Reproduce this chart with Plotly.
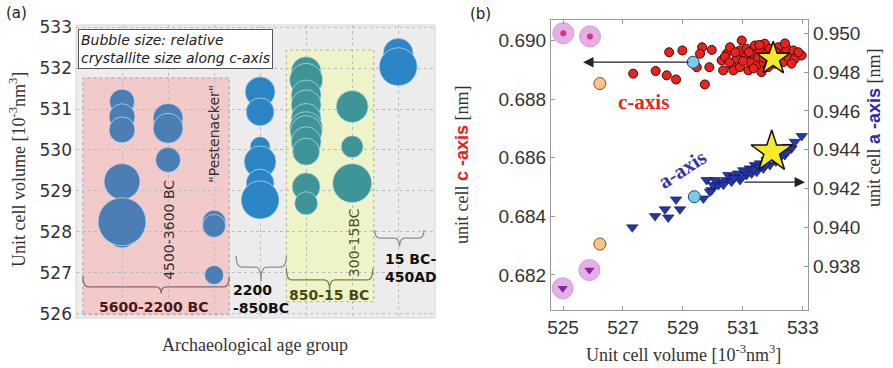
import plotly.graph_objects as go

# ---------------- Panel (a) data ----------------
age_groups = ["5600-2200 BC", "4500-3600 BC", "Pestenacker", "2200-850BC",
              "850-15 BC", "300-15BC", "15 BC-450AD"]
bubble_group = [1, 1, 1, 1, 1, 1,
                2, 2, 2,
                3, 3, 3,
                4, 4, 4, 4, 4, 4,
                5, 5, 5, 5, 5, 5, 5, 5, 5, 5, 5,
                6, 6, 6,
                7, 7]
bubble_volume = [531.18, 530.81, 530.49, 529.23, 527.95, 528.25,
                 530.77, 530.53, 529.76,
                 528.25, 528.15, 526.95,
                 531.42, 530.93, 530.08, 529.71, 529.19, 528.78,
                 531.91, 531.71, 531.34, 531.10, 530.77, 530.53, 530.45, 530.20, 529.96, 529.10, 528.70,
                 531.06, 530.08, 529.19,
                 532.36, 532.03]
bubble_rel_size = [25, 26, 26, 36, 28, 48,
                   30, 30, 25,
                   23, 23, 19,
                   30, 28, 20, 32, 28, 38,
                   30, 33, 30, 30, 30, 33, 32, 30, 27, 28, 23,
                   32, 22, 39,
                   30, 38]
a_yticks = [526, 527, 528, 529, 530, 531, 532, 533]

# ---------------- Panel (b) data ----------------
c_vol = [527.34, 528.09, 528.46, 528.77, 528.54, 528.98, 529.64, 529.57, 529.96, 529.46, 529.88, 529.73,
         530.29, 530.46, 530.57, 530.62, 530.68, 530.79, 530.90, 530.96, 530.90, 531.07, 531.12, 531.18,
         531.23, 531.29, 531.40, 531.46, 531.51, 531.57, 531.62, 531.68, 531.73, 531.79, 531.84, 531.90,
         531.96, 532.07, 532.18, 532.23, 532.34, 532.46, 532.51, 532.68, 532.73, 532.96, 532.62, 530.34,
         530.40, 530.75, 531.00, 531.35, 531.55, 531.85, 532.10, 532.40, 532.85, 530.55, 531.20, 531.70]
c_axis = [0.68887, 0.68896, 0.68881, 0.68867, 0.68960, 0.68966, 0.68977, 0.68955, 0.68968, 0.68909, 0.68909, 0.68850,
          0.68932, 0.68955, 0.68977, 0.68915, 0.68898, 0.68938, 0.68966, 0.69000, 0.68909, 0.68943, 0.68972, 0.68898,
          0.68926, 0.68955, 0.68983, 0.68915, 0.68943, 0.68966, 0.68892, 0.68926, 0.68989, 0.68955, 0.68909, 0.68972,
          0.68932, 0.68921, 0.68977, 0.68949, 0.68926, 0.68972, 0.68943, 0.68966, 0.68938, 0.68949, 0.68921, 0.68898,
          0.68945, 0.68960, 0.68930, 0.68905, 0.68985, 0.68945, 0.68960, 0.68990, 0.68960, 0.68925, 0.68960, 0.68940]

a_vol = [527.31, 528.07, 528.51, 528.40, 528.77, 528.90, 529.68, 529.79, 529.96, 530.01, 530.23, 530.46,
         529.90, 530.18, 530.07,
         530.51, 530.62, 530.73, 530.84, 530.90, 531.01, 531.12, 531.23, 531.29, 531.40, 531.46, 531.57,
         531.68, 531.79, 531.90, 532.01, 532.18, 532.29, 532.40, 532.51, 532.62, 532.73, 532.96,
         530.35, 530.95, 531.35, 531.75, 532.10, 532.45, 530.70, 531.55]
a_axis = [0.94000, 0.94058, 0.94051, 0.94093, 0.94144, 0.94093, 0.94149, 0.94244, 0.94192, 0.94218, 0.94235, 0.94244,
          0.94184, 0.94218, 0.94244,
          0.94270, 0.94235, 0.94261, 0.94278, 0.94244, 0.94295, 0.94270, 0.94304, 0.94278, 0.94321, 0.94287, 0.94330,
          0.94304, 0.94347, 0.94321, 0.94364, 0.94347, 0.94390, 0.94373, 0.94415, 0.94407, 0.94441, 0.94471,
          0.94220, 0.94255, 0.94300, 0.94320, 0.94340, 0.94385, 0.94255, 0.94310]

ref_star_vol = [532.01]
ref_star_c = [0.68938]
ref_star_a_vol = [531.96]
ref_star_a = [0.94390]
pink_vol = [525.01, 525.90]
pink_c = [0.69025, 0.69014]
pink_a_vol = [524.99, 525.88]
pink_a = [0.93686, 0.93780]
orange_vol = [526.23]
orange_c = [0.68853]
orange_a = [0.93914]
cyan_vol = [529.34]
cyan_c = [0.68926]
cyan_a_vol = [529.38]
cyan_a = [0.94158]

b_xticks = [525, 527, 529, 531, 533]
b_cticks = [0.682, 0.684, 0.686, 0.688, 0.690]
b_aticks = [0.938, 0.940, 0.942, 0.944, 0.946, 0.948, 0.950]

# ---------------- Figure ----------------
group_colors = {1: "#4b7eb5", 2: "#4b7eb5", 3: "#4b7eb5", 4: "#2c86c5",
                5: "#3d9598", 6: "#3d9598", 7: "#2c86c5"}

fig = go.Figure()

fig.add_trace(go.Scatter(
    x=bubble_group, y=bubble_volume, mode="markers", xaxis="x", yaxis="y",
    marker=dict(size=bubble_rel_size, sizemode="diameter",
                color=[group_colors[g] for g in bubble_group], opacity=1,
                line=dict(color="rgba(200,220,235,0.7)", width=1)),
    showlegend=False, hoverinfo="skip"))

# panel b traces
fig.add_trace(go.Scatter(x=pink_vol, y=pink_c, mode="markers", xaxis="x2", yaxis="y2",
                         marker=dict(size=21, color="#e6b0e6", line=dict(color="#d79ad7", width=1)),
                         showlegend=False))
fig.add_trace(go.Scatter(x=pink_vol, y=pink_c, mode="markers", xaxis="x2", yaxis="y2",
                         marker=dict(size=6, color="#e0307a"), showlegend=False))
fig.add_trace(go.Scatter(x=pink_a_vol, y=pink_a, mode="markers", xaxis="x2", yaxis="y3",
                         marker=dict(size=21, color="#e6b0e6", line=dict(color="#d79ad7", width=1)),
                         showlegend=False))
fig.add_trace(go.Scatter(x=pink_a_vol, y=pink_a, mode="markers", xaxis="x2", yaxis="y3",
                         marker=dict(size=9, symbol="triangle-down", color="#7a2aa8"), showlegend=False))
fig.add_trace(go.Scatter(x=orange_vol, y=orange_c, mode="markers", xaxis="x2", yaxis="y2",
                         marker=dict(size=12, color="#fac58c", line=dict(color="#7a5020", width=1)),
                         showlegend=False))
fig.add_trace(go.Scatter(x=orange_vol, y=orange_a, mode="markers", xaxis="x2", yaxis="y3",
                         marker=dict(size=12, color="#fac58c", line=dict(color="#7a5020", width=1)),
                         showlegend=False))
fig.add_trace(go.Scatter(x=c_vol, y=c_axis, mode="markers", xaxis="x2", yaxis="y2",
                         marker=dict(size=9, color="#e8231d", line=dict(color="#4a0000", width=1)),
                         showlegend=False))
fig.add_trace(go.Scatter(x=a_vol, y=a_axis, mode="markers", xaxis="x2", yaxis="y3",
                         marker=dict(size=10, symbol="triangle-down", color="#2536a8",
                                     line=dict(color="#101050", width=0.6)),
                         showlegend=False))
fig.add_trace(go.Scatter(x=cyan_vol, y=cyan_c, mode="markers", xaxis="x2", yaxis="y2",
                         marker=dict(size=12, color="#7ccbe8", line=dict(color="#1a4a70", width=1)),
                         showlegend=False))
fig.add_trace(go.Scatter(x=cyan_a_vol, y=cyan_a, mode="markers", xaxis="x2", yaxis="y3",
                         marker=dict(size=12, color="#7ccbe8", line=dict(color="#1a4a70", width=1)),
                         showlegend=False))
fig.add_trace(go.Scatter(x=ref_star_vol, y=ref_star_c, mode="markers", xaxis="x2", yaxis="y2",
                         marker=dict(size=25, symbol="star", color="#f4ea2a", line=dict(color="#111", width=1.5)),
                         showlegend=False))
fig.add_trace(go.Scatter(x=ref_star_a_vol, y=ref_star_a, mode="markers", xaxis="x2", yaxis="y3",
                         marker=dict(size=31, symbol="star", color="#f4ea2a", line=dict(color="#111", width=1.5)),
                         showlegend=False))

# ---------------- Shapes ----------------
shapes = []
shapes.append(dict(type="rect", xref="x domain", yref="y domain", x0=0, x1=1, y0=0, y1=1,
                   fillcolor="#ececec", line=dict(color="#d6d6d6", width=1), layer="below"))
shapes.append(dict(type="rect", xref="x", yref="y", x0=0.15, x1=3.33, y0=525.98, y1=531.76,
                   fillcolor="#f3caca", line=dict(color="#b0a0a0", width=1, dash="dot"), layer="below"))
shapes.append(dict(type="rect", xref="x", yref="y", x0=4.57, x1=6.47, y0=526.3, y1=532.44,
                   fillcolor="#eef4c8", line=dict(color="#b0b090", width=1, dash="dot"), layer="below"))


def brace(x0, x1, xm, ye, yl, yp, color):
    d = 0.12
    path = (f"M {x0},{ye} Q {x0},{yl} {x0 + d},{yl} L {xm - d},{yl} "
            f"Q {xm},{yl} {xm},{yp} Q {xm},{yl} {xm + d},{yl} "
            f"L {x1 - d},{yl} Q {x1},{yl} {x1},{ye}")
    return dict(type="path", xref="x", yref="y", path=path,
                line=dict(color=color, width=1.3), layer="above")


shapes.append(brace(0.15, 3.33, 1.85, 526.91, 526.66, 526.50, "#8a6565"))
shapes.append(brace(3.48, 4.57, 4.02, 527.41, 527.14, 526.79, "#909090"))
shapes.append(brace(4.57, 6.45, 5.51, 527.11, 526.83, 526.59, "#7a7a50"))
shapes.append(brace(6.49, 7.56, 7.03, 528.05, 527.85, 527.64, "#909090"))

# ---------------- Annotations ----------------
serif = "Liberation Serif"
C = dict(xanchor="center", yanchor="middle", showarrow=False)
ann = []
ann.append(dict(text="(a)", xref="paper", yref="paper", x=4 / 893, y=1 - 13 / 368, showarrow=False,
                xanchor="left", yanchor="middle", font=dict(family="DejaVu Sans", size=15, color="#222")))
ann.append(dict(text="(b)", xref="paper", yref="paper", x=468 / 893, y=1 - 14 / 368, showarrow=False,
                xanchor="left", yanchor="middle", font=dict(family="DejaVu Sans", size=15, color="#222")))
ann.append(dict(text="<i>Bubble size: relative<br>crystallite size along c-axis</i>", xref="paper", yref="paper",
                x=78 / 893, y=1 - 29 / 368, xanchor="left", yanchor="top", align="left", showarrow=False,
                bgcolor="white", bordercolor="#555", borderwidth=1, borderpad=2,
                font=dict(family="DejaVu Sans", size=14, color="#222")))
ann.append(dict(text="Unit cell volume [10<sup>-3</sup>nm<sup>3</sup>]", xref="paper", yref="paper",
                x=18 / 893, y=1 - 170 / 368, textangle=-90, **C,
                font=dict(family=serif, size=18, color="#333")))
ann.append(dict(text="Archaeological age group", xref="paper", yref="paper",
                x=255 / 893, y=1 - 345 / 368, **C,
                font=dict(family=serif, size=18, color="#333")))
# rotated group labels
ann.append(dict(text="4500-3600 BC", xref="x", yref="y", x=2.02, y=528.05, textangle=-90, **C,
                font=dict(family="DejaVu Sans", size=14, color="#333")))
ann.append(dict(text="\"Pestenacker\"", xref="x", yref="y", x=3.0, y=530.4, textangle=-90, **C,
                font=dict(family="DejaVu Sans", size=14, color="#333")))
ann.append(dict(text="300-15BC", xref="x", yref="y", x=6.04, y=527.75, textangle=-90, **C,
                font=dict(family="DejaVu Sans", size=14, color="#555520")))
ann.append(dict(text="<b>5600-2200 BC</b>", xref="x", yref="y", x=1.70, y=526.17, **C,
                font=dict(family="DejaVu Sans", size=14, color="#4a1818")))
ann.append(dict(text="<b>2200<br>-850BC</b>", xref="x", yref="y", x=3.37, y=526.37, xanchor="left",
                yanchor="middle", align="left", showarrow=False,
                font=dict(family="DejaVu Sans", size=14, color="#111")))
ann.append(dict(text="<b>850-15 BC</b>", xref="x", yref="y", x=5.50, y=526.46, **C,
                font=dict(family="DejaVu Sans", size=14, color="#4a4a10")))
ann.append(dict(text="<b>15 BC-<br>450AD</b>", xref="x", yref="y", x=6.67, y=527.12, xanchor="left",
                yanchor="middle", align="left", showarrow=False,
                font=dict(family="DejaVu Sans", size=14, color="#111")))

# panel b annotations
ann.append(dict(x=525.67, y=cyan_c[0], xref="x2", yref="y2", ax=cyan_vol[0] - 0.1, ay=cyan_c[0],
                axref="x2", ayref="y2", showarrow=True, arrowhead=2, arrowsize=1.6, arrowwidth=1.3,
                arrowcolor="#222", text=""))
ann.append(dict(x=533.07, y=0.94233, xref="x2", yref="y3", ax=531.0, ay=0.94233,
                axref="x2", ayref="y3", showarrow=True, arrowhead=2, arrowsize=1.6, arrowwidth=1.3,
                arrowcolor="#222", text=""))
ann.append(dict(text="<b>c-axis</b>", xref="x2", yref="y2", x=527.67, y=0.68791, **C,
                font=dict(family=serif, size=21, color="#e82424")))
ann.append(dict(text="<b>a-axis</b>", xref="x2", yref="y3", x=529.0, y=0.94300, **C,
                textangle=-33, font=dict(family=serif, size=21, color="#3434b0")))
ann.append(dict(text="Unit cell volume [10<sup>-3</sup>nm<sup>3</sup>]", xref="paper", yref="paper",
                x=683 / 893, y=1 - 353 / 368, **C,
                font=dict(family=serif, size=18, color="#333")))
ann.append(dict(text="unit cell <span style='font-family:Liberation Sans;color:#e82020'><b>c -axis</b></span> [nm]",
                xref="paper", yref="paper", x=462 / 893, y=1 - 165 / 368, textangle=-90, **C,
                font=dict(family=serif, size=18, color="#333")))
ann.append(dict(text="unit cell <span style='font-family:Liberation Sans;color:#2a2ab0'><b>a -axis</b></span> [nm]",
                xref="paper", yref="paper", x=874 / 893, y=1 - 128 / 368, textangle=-90, **C,
                font=dict(family=serif, size=18, color="#333")))

fig.update_layout(
    width=893, height=368, margin=dict(l=0, r=0, t=0, b=0, autoexpand=False),
    paper_bgcolor="white", plot_bgcolor="rgba(0,0,0,0)",
    showlegend=False,
    shapes=shapes, annotations=ann,
    xaxis=dict(domain=[76 / 893, 435 / 893], range=[0, 7.8], anchor="y", automargin=False,
               tickvals=[1, 2, 3, 4, 5, 6, 7], showticklabels=False, ticks="",
               showgrid=True, gridcolor="#bdbdbd", griddash="dot", gridwidth=1, zeroline=False,
               showline=False),
    yaxis=dict(domain=[1 - 318 / 368, 1 - 25 / 368], range=[525.9, 533.05], anchor="x", automargin=False,
               tickvals=a_yticks, ticks="", showgrid=True, gridcolor="#bdbdbd", griddash="dot",
               zeroline=False, showline=False, ticklabelstandoff=3,
               tickfont=dict(family="DejaVu Sans", size=17, color="#333")),
    xaxis2=dict(domain=[551 / 893, 808 / 893], range=[524.6, 533.17], anchor="y2", automargin=False,
                tickvals=b_xticks, ticks="inside", ticklen=4, tickcolor="#999",
                showline=True, linecolor="#999", linewidth=1.2, mirror="ticks",
                showgrid=False, zeroline=False,
                tickfont=dict(family="Liberation Sans", size=19, color="#333")),
    yaxis2=dict(domain=[1 - 310 / 368, 1 - 20 / 368], range=[0.6808, 0.6907], anchor="x2", automargin=False,
                tickvals=b_cticks, tickformat=".3f", ticks="inside", ticklen=4, tickcolor="#999",
                showline=True, linecolor="#999", linewidth=1.2, showgrid=False, zeroline=False,
                tickfont=dict(family="Liberation Sans", size=19, color="#333")),
    yaxis3=dict(domain=[1 - 310 / 368, 1 - 20 / 368], range=[0.93574, 0.95069], anchor="x2", automargin=False,
                overlaying="y2", side="right",
                tickvals=b_aticks, tickformat=".3f", ticks="inside", ticklen=4, tickcolor="#999",
                showline=True, linecolor="#999", linewidth=1.2, showgrid=False, zeroline=False,
                tickfont=dict(family="Liberation Sans", size=19, color="#333")),
)

fig.write_html("out.html", config={"displayModeBar": False},
               post_script="document.body.style.margin='0px';document.body.style.overflow='hidden';")
